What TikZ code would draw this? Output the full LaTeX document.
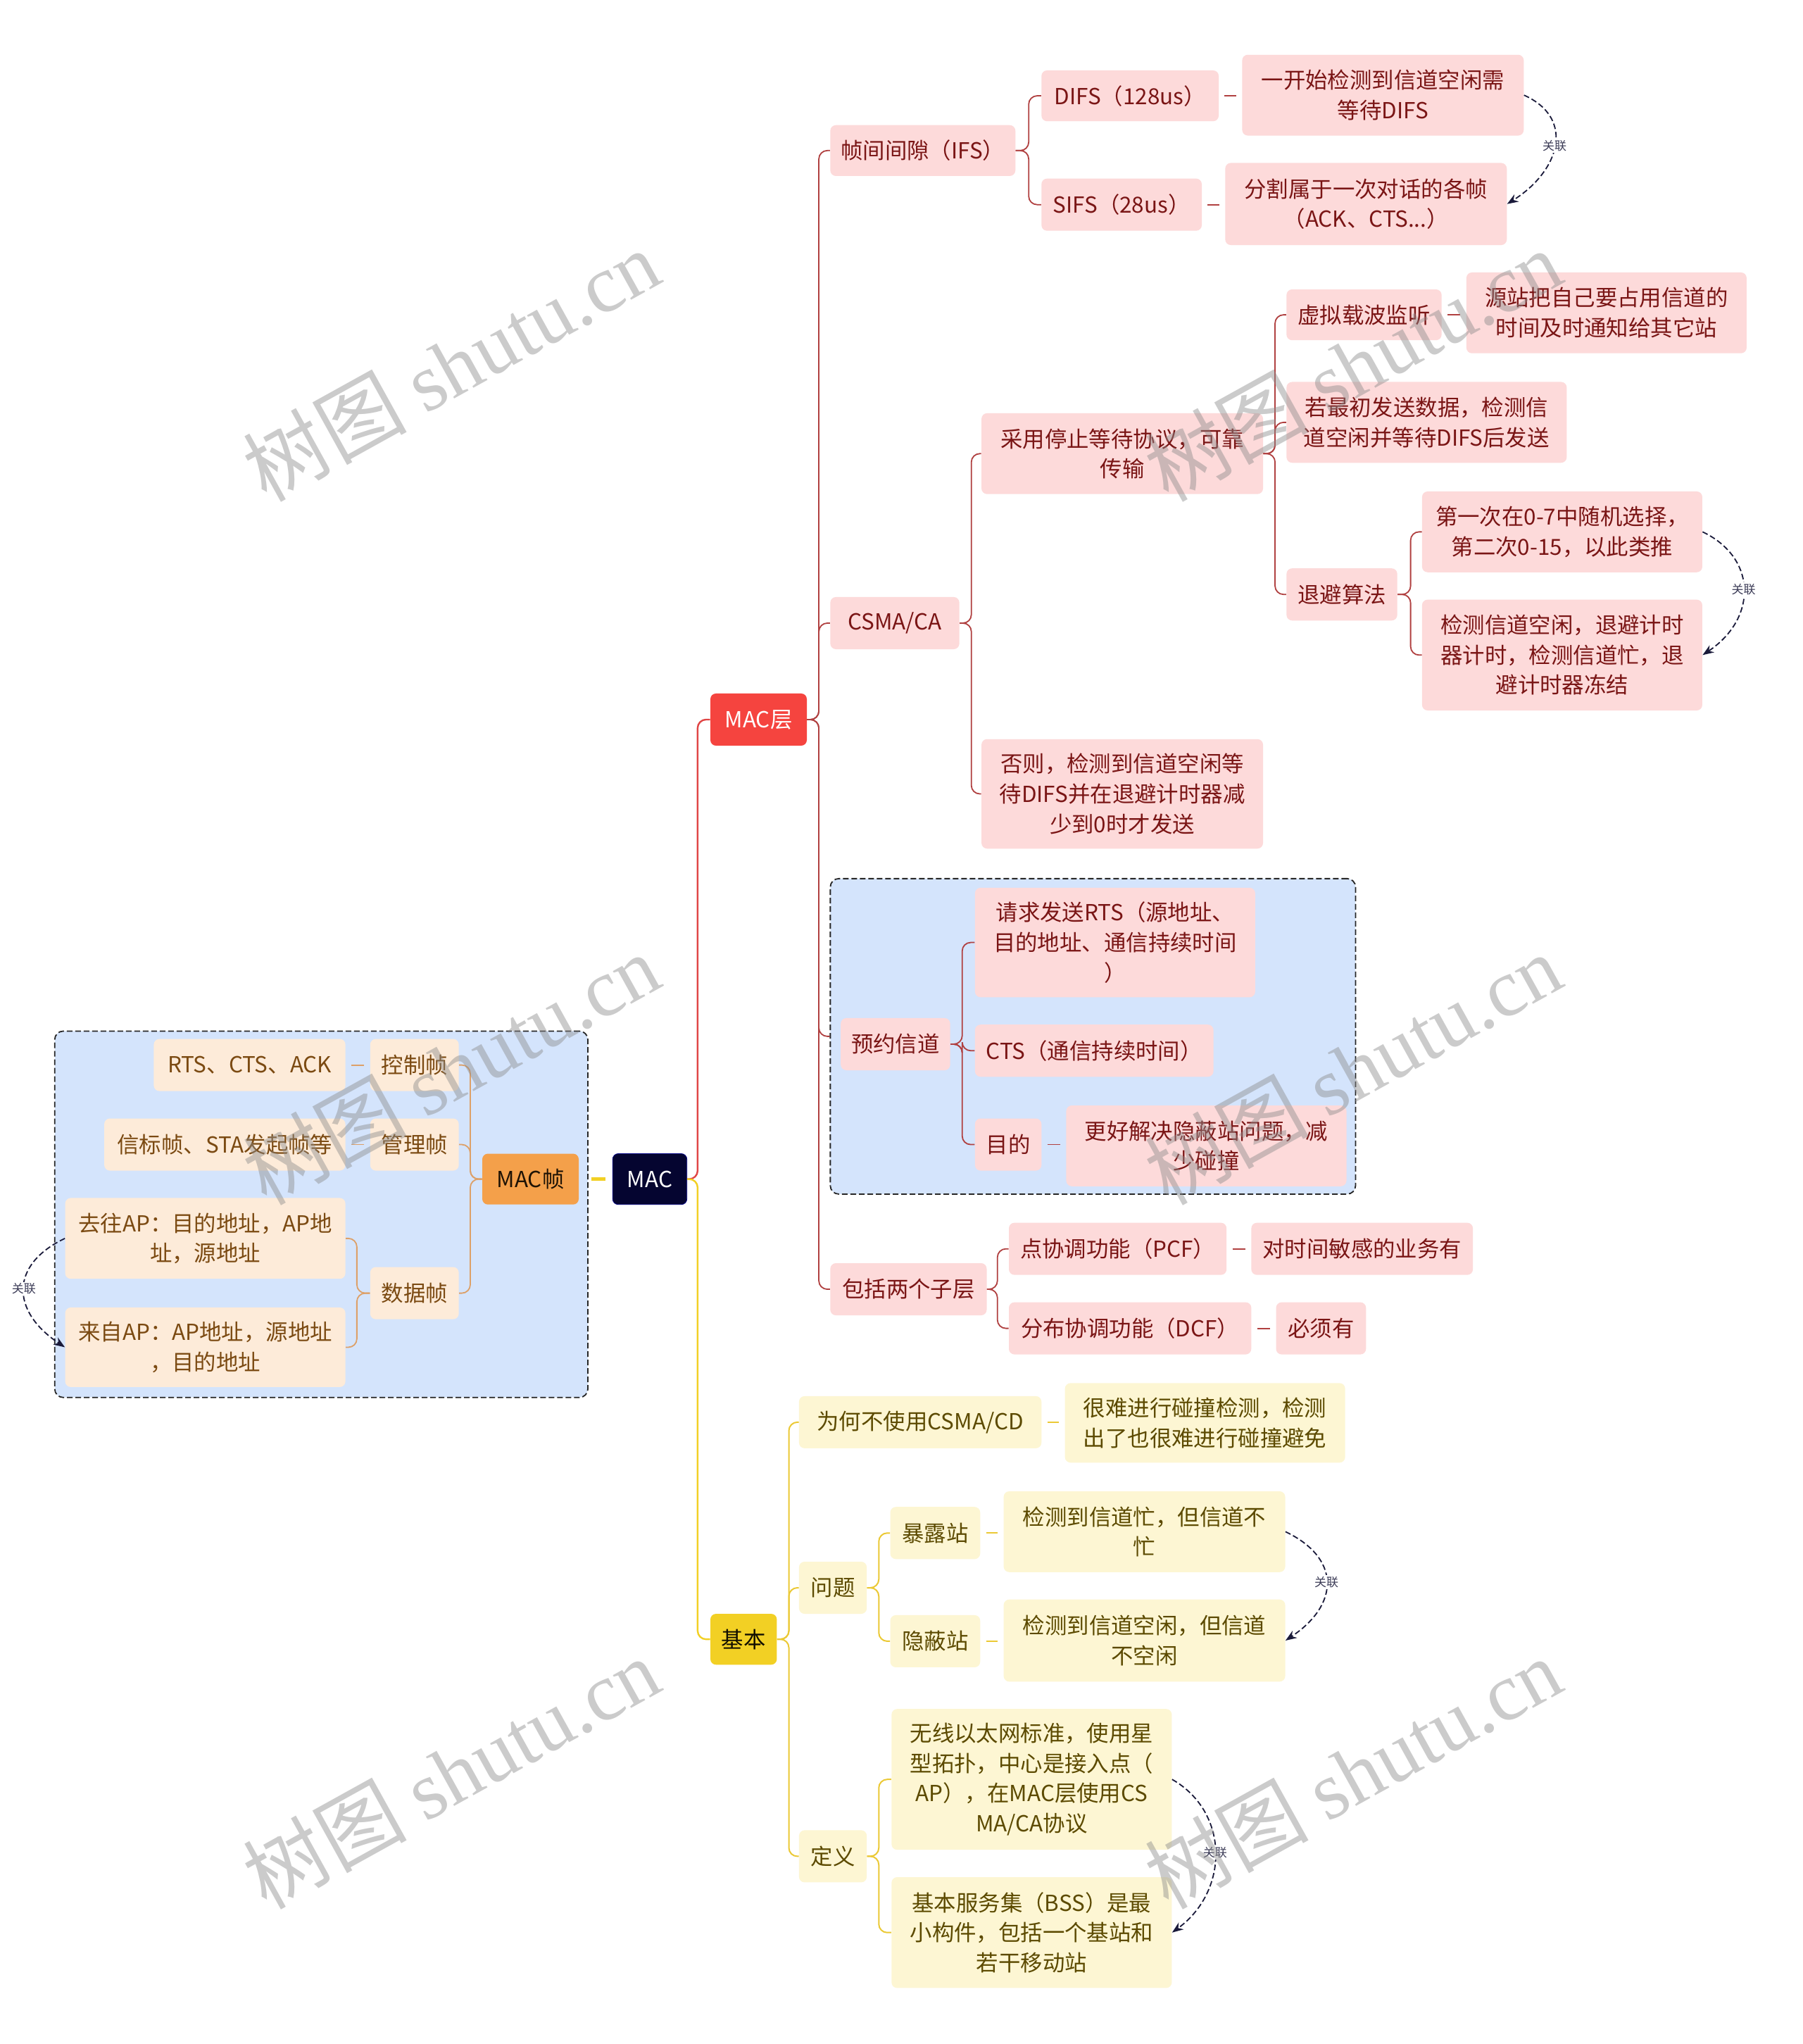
\documentclass[tikz,border=0pt]{standalone}
\usepackage{fontspec}
\setmainfont{Noto Sans CJK SC}
\newfontfamily\wmserif{Liberation Serif}
\usetikzlibrary{arrows.meta}
\definecolor{pkfill}{HTML}{FDDADA}
\definecolor{pktext}{HTML}{7A1515}
\definecolor{pfill}{HTML}{FDEBD9}
\definecolor{ptext}{HTML}{7B4A12}
\definecolor{yfill}{HTML}{FDF6D3}
\definecolor{ytext}{HTML}{5C4A00}
\definecolor{bluebox}{HTML}{D4E4FC}
\definecolor{redline}{HTML}{B04040}
\definecolor{mainred}{HTML}{E04545}
\definecolor{yline}{HTML}{EBC935}
\definecolor{oline}{HTML}{DDA068}
\definecolor{macnavy}{HTML}{050530}
\definecolor{macred}{HTML}{F5443F}
\definecolor{macyel}{HTML}{F2D024}
\definecolor{macorg}{HTML}{F4A04A}
\definecolor{relc}{HTML}{1A1A3A}
\newcommand\bx[7]{%
  \pgfmathsetmacro\mybw{(#5-#3)*0.9255}%
  \pgfmathsetmacro\mybh{(#6-#4)*0.9255}%
  \node[#2, minimum width=\mybw pt, minimum height=\mybh pt] (#1) at ({(#3+#5)/2},{(#4+#6)/2}) {#7};}
\newcommand\brR[4]{\draw[#1] (#2.east) -- ++(#4,0) |- (#3.west);}
\newcommand\brL[4]{\draw[#1] (#2.west) -- ++(-#4,0) |- (#3.east);}
\newcommand\lfR[3]{\draw[#1] ([xshift=4pt]#2.east) -- ([xshift=-4pt]#2.east -| #3.west);}
\newcommand\lfL[3]{\draw[#1] ([xshift=-4pt]#2.west) -- ([xshift=4pt]#2.west -| #3.east);}
\begin{document}
\begin{tikzpicture}[x=0.9255pt,y=-0.9255pt,
  box/.style={rounded corners=4pt, inner sep=0pt, align=center, font=\fontsize{15.7pt}{21.3pt}\selectfont},
  pk/.style={box, fill=pkfill, text=pktext},
  pe/.style={box, fill=pfill, text=ptext},
  ye/.style={box, fill=yfill, text=ytext},
  dbox/.style={fill=bluebox, draw=black!85, dash pattern=on 4pt off 2pt, line width=0.9pt, rounded corners=6pt, inner sep=0pt},
  rc/.style={draw=redline, line width=0.9pt, rounded corners=6pt},
  yc/.style={draw=yline, line width=1pt, rounded corners=6pt},
  oc/.style={draw=oline, line width=0.9pt, rounded corners=6pt},
  rel/.style={draw=relc, line width=0.9pt, dash pattern=on 4pt off 2pt, -{Stealth[length=8pt,width=6pt]}},
  rellab/.style={fill=white, inner sep=1pt, text=relc!85, font=\fontsize{8.5pt}{9pt}\selectfont},
  wm/.style={text=black!45, opacity=0.45, font=\fontsize{58pt}{62pt}\selectfont}
]
\useasboundingbox (0,0) rectangle (1383,1568);
\fill[white] (0,0) rectangle (1383,1568);

% dashed group boxes
\bx{leftbox}{dbox}{42}{791}{451}{1072}{}
\bx{resbox}{dbox}{637}{674}{1040}{916}{}

% main nodes
\bx{mac}{box, fill=macnavy, text=white, draw=macnavy!60!blue}{470}{885}{527}{924}{MAC}
\bx{maclayer}{box, fill=macred, text=white}{545}{532}{619}{572}{MAC层}
\bx{basic}{box, fill=macyel, text=black!80!ytext}{545}{1238}{596}{1277}{基本}
\bx{macframe}{box, fill=macorg, text=black!75!ptext}{370}{885}{444}{924}{MAC帧}

% left subtree
\bx{kz}{pe}{284}{797}{352}{837}{控制帧}
\bx{rts}{pe}{118}{797}{265}{837}{RTS、CTS、ACK}
\bx{gl}{pe}{284}{858}{352}{898}{管理帧}
\bx{xb}{pe}{80}{858}{265}{898}{信标帧、STA发起帧等}
\bx{sj}{pe}{284}{972}{352}{1012}{数据帧}
\bx{qw}{pe}{50}{919}{265}{981}{去往AP：目的地址，AP地\\址，源地址}
\bx{lz}{pe}{50}{1003}{265}{1064}{来自AP：AP地址，源地址\\，目的地址}

% MAC layer subtree
\bx{ifs}{pk}{637}{96}{779}{135}{帧间间隙（IFS）}
\bx{difs}{pk}{799}{54}{935}{93}{DIFS（128us）}
\bx{difsd}{pk}{953}{42}{1169}{104}{一开始检测到信道空闲需\\等待DIFS}
\bx{sifs}{pk}{799}{137}{922}{177}{SIFS（28us）}
\bx{sifsd}{pk}{940}{125}{1156}{188}{分割属于一次对话的各帧\\（ACK、CTS...）}

\bx{csma}{pk}{637}{458}{736}{498}{CSMA/CA}
\bx{stop}{pk}{753}{317}{969}{379}{采用停止等待协议，可靠\\传输}
\bx{vcs}{pk}{987}{222}{1106}{261}{虚拟载波监听}
\bx{vcsd}{pk}{1125}{209}{1340}{271}{源站把自己要占用信道的\\时间及时通知给其它站}
\bx{first}{pk}{987}{293}{1202}{355}{若最初发送数据，检测信\\道空闲并等待DIFS后发送}
\bx{backoff}{pk}{987}{436}{1072}{476}{退避算法}
\bx{bo1}{pk}{1091}{377}{1306}{439}{第一次在0-7中随机选择，\\第二次0-15，以此类推}
\bx{bo2}{pk}{1091}{460}{1306}{545}{检测信道空闲，退避计时\\器计时，检测信道忙，退\\避计时器冻结}
\bx{other}{pk}{753}{567}{969}{651}{否则，检测到信道空闲等\\待DIFS并在退避计时器减\\少到0时才发送}

\bx{yy}{pk}{645}{781}{729}{821}{预约信道}
\bx{rtsq}{pk}{748}{681}{963}{765}{请求发送RTS（源地址、\\目的地址、通信持续时间\\）}
\bx{ctsq}{pk}{748}{786}{931}{826}{CTS（通信持续时间）}
\bx{md}{pk}{748}{858}{799}{898}{目的}
\bx{mdd}{pk}{818}{848}{1033}{910}{更好解决隐蔽站问题，减\\少碰撞}

\bx{two}{pk}{637}{969}{757}{1009}{包括两个子层}
\bx{pcf}{pk}{774}{938}{941}{978}{点协调功能（PCF）}
\bx{pcfd}{pk}{960}{938}{1130}{978}{对时间敏感的业务有}
\bx{dcf}{pk}{774}{999}{960}{1039}{分布协调功能（DCF）}
\bx{dcfd}{pk}{979}{999}{1048}{1039}{必须有}

% basic subtree
\bx{why}{ye}{613}{1071}{799}{1111}{为何不使用CSMA/CD}
\bx{whyd}{ye}{817}{1061}{1032}{1122}{很难进行碰撞检测，检测\\出了也很难进行碰撞避免}
\bx{prob}{ye}{613}{1198}{665}{1238}{问题}
\bx{exp}{ye}{683}{1156}{752}{1196}{暴露站}
\bx{expd}{ye}{770}{1144}{986}{1206}{检测到信道忙，但信道不\\忙}
\bx{hid}{ye}{683}{1239}{752}{1279}{隐蔽站}
\bx{hidd}{ye}{770}{1227}{986}{1290}{检测到信道空闲，但信道\\不空闲}
\bx{def}{ye}{613}{1404}{665}{1444}{定义}
\bx{wl}{ye}{684}{1311}{899}{1419}{无线以太网标准，使用星\\型拓扑，中心是接入点（\\AP），在MAC层使用CS\\MA/CA协议}
\bx{bss}{ye}{684}{1440}{899}{1525}{基本服务集（BSS）是最\\小构件，包括一个基站和\\若干移动站}

% connectors from MAC
\draw[draw=mainred, line width=1.2pt, rounded corners=6pt] (mac.east) -- ++(8,0) |- (maclayer.west);
\draw[draw=macyel, line width=1.2pt, rounded corners=6pt] (mac.east) -- ++(8,0) |- (basic.west);
\draw[draw=macyel, line width=2.2pt, shorten >=5pt, shorten <=2pt] (leftbox.east |- mac.west) -- (mac.west);

% left subtree connectors
\brL{oc}{macframe}{kz}{9}
\brL{oc}{macframe}{gl}{9}
\brL{oc}{macframe}{sj}{9}
\brL{oc}{sj}{qw}{10}
\brL{oc}{sj}{lz}{10}
\lfL{oc}{kz}{rts}
\lfL{oc}{gl}{xb}

% MAC layer connectors
\brR{rc}{maclayer}{ifs}{9}
\brR{rc}{maclayer}{csma}{9}
\brR{rc}{maclayer}{resbox}{9}
\brR{rc}{maclayer}{two}{9}
\brR{rc}{ifs}{difs}{10}
\brR{rc}{ifs}{sifs}{10}
\lfR{rc}{difs}{difsd}
\lfR{rc}{sifs}{sifsd}
\brR{rc}{csma}{stop}{9}
\brR{rc}{csma}{other}{9}
\brR{rc}{stop}{vcs}{9}
\brR{rc}{stop}{first}{9}
\brR{rc}{stop}{backoff}{9}
\lfR{rc}{vcs}{vcsd}
\brR{rc}{backoff}{bo1}{10}
\brR{rc}{backoff}{bo2}{10}
\brR{rc}{yy}{rtsq}{9}
\brR{rc}{yy}{ctsq}{9}
\brR{rc}{yy}{md}{9}
\lfR{rc}{md}{mdd}
\brR{rc}{two}{pcf}{8}
\brR{rc}{two}{dcf}{8}
\lfR{rc}{pcf}{pcfd}
\lfR{rc}{dcf}{dcfd}

% basic connectors
\brR{yc}{basic}{why}{9}
\brR{yc}{basic}{prob}{9}
\brR{yc}{basic}{def}{9}
\lfR{yc}{why}{whyd}
\brR{yc}{prob}{exp}{9}
\brR{yc}{prob}{hid}{9}
\lfR{yc}{exp}{expd}
\lfR{yc}{hid}{hidd}
\brR{yc}{def}{wl}{9}
\brR{yc}{def}{bss}{9}

% relation arcs
\draw[rel] (difsd.east) .. controls +(40,18) and +(40,-25) .. (sifsd.east) node[rellab, pos=0.5] {关联};
\draw[rel] (bo1.east) .. controls +(42,20) and +(42,-28) .. (bo2.east) node[rellab, pos=0.5] {关联};
\draw[rel] (expd.east) .. controls +(42,20) and +(42,-28) .. (hidd.east) node[rellab, pos=0.5] {关联};
\draw[rel] (wl.east) .. controls +(44,25) and +(44,-32) .. (bss.east) node[rellab, pos=0.5] {关联};
\draw[rel] (qw.west) .. controls +(-42,20) and +(-42,-28) .. (lz.west) node[rellab, pos=0.5] {关联};

% watermarks
\foreach \wx/\wy in {346/280, 1038/280, 346/820, 1038/820, 346/1360, 1038/1360}
  \node[wm, rotate=29] at (\wx,\wy) {树图 {\wmserif shutu.cn}};
\end{tikzpicture}
\end{document}
